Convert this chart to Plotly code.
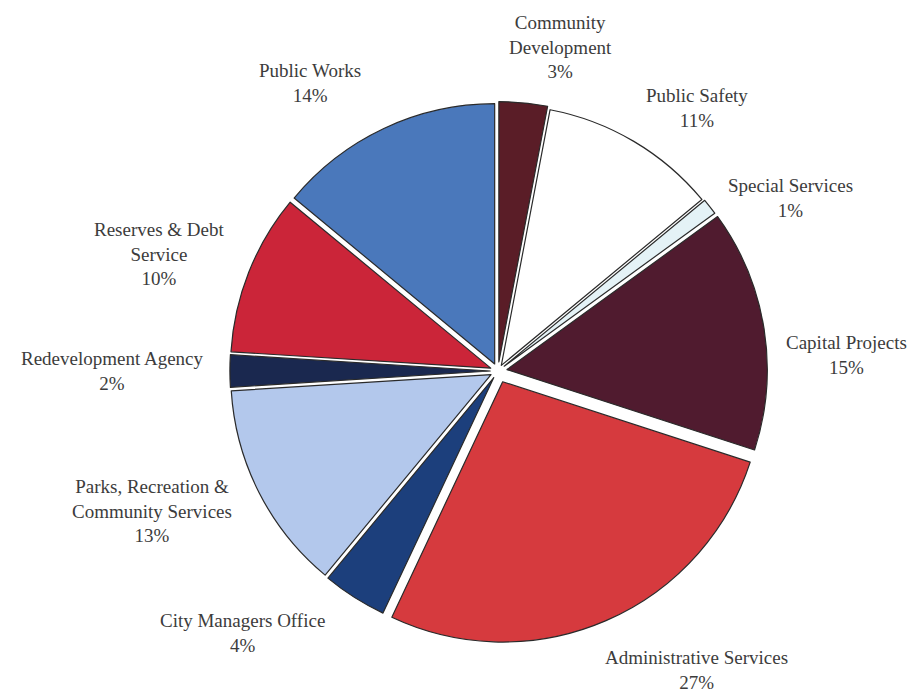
import plotly.graph_objects as go

categories = ["Community Development", "Public Safety", "Special Services", "Capital Projects",
              "Administrative Services", "City Managers Office",
              "Parks, Recreation & Community Services", "Redevelopment Agency",
              "Reserves & Debt Service", "Public Works"]
label_text = ["Community<br>Development", "Public Safety", "Special Services", "Capital Projects",
              "Administrative Services", "City Managers Office",
              "Parks, Recreation &<br>Community Services", "Redevelopment Agency",
              "Reserves & Debt<br>Service", "Public Works"]
values = [3, 11, 1, 15, 27, 4, 13, 2, 10, 14]

colors = ["#5a1d27", "#ffffff", "#e4f2f6", "#501b2f", "#d63a3e", "#1c3f7c",
          "#b3c8ec", "#1a284f", "#cb2539", "#4a78bb"]
pulls = [0.035, 0.025, 0.03, 0.035, 0.045, 0.03, 0.03, 0.03, 0.03, 0.03]

# label centre positions in pixels (layout only)
label_px = [(560, 47), (697, 108), (790, 198), (846, 355), (696, 670),
            (242, 633), (152, 511), (112, 371), (159, 254), (310, 83)]

W, H = 915, 694

fig = go.Figure(go.Pie(
    labels=categories, values=values, sort=False, direction="clockwise", rotation=0,
    marker=dict(colors=colors, line=dict(color="#2a2a2a", width=1.2)),
    pull=pulls, textinfo="none", hoverinfo="label+percent", showlegend=False,
    domain=dict(x=[226 / W, 770 / W], y=[1 - 643 / H, 1 - 99 / H]),
))

for txt, v, (px, py) in zip(label_text, values, label_px):
    fig.add_annotation(
        x=px / W, y=1 - py / H, xref="paper", yref="paper",
        text=f"{txt}<br>{v}%", showarrow=False, align="center",
        xanchor="center", yanchor="middle",
        font=dict(family="Liberation Serif, Times New Roman, serif", size=19, color="#3c3c3c"),
    )

fig.update_layout(width=W, height=H, margin=dict(l=0, r=0, t=0, b=0),
                  paper_bgcolor="white", plot_bgcolor="white")

fig.write_html("out.html")
